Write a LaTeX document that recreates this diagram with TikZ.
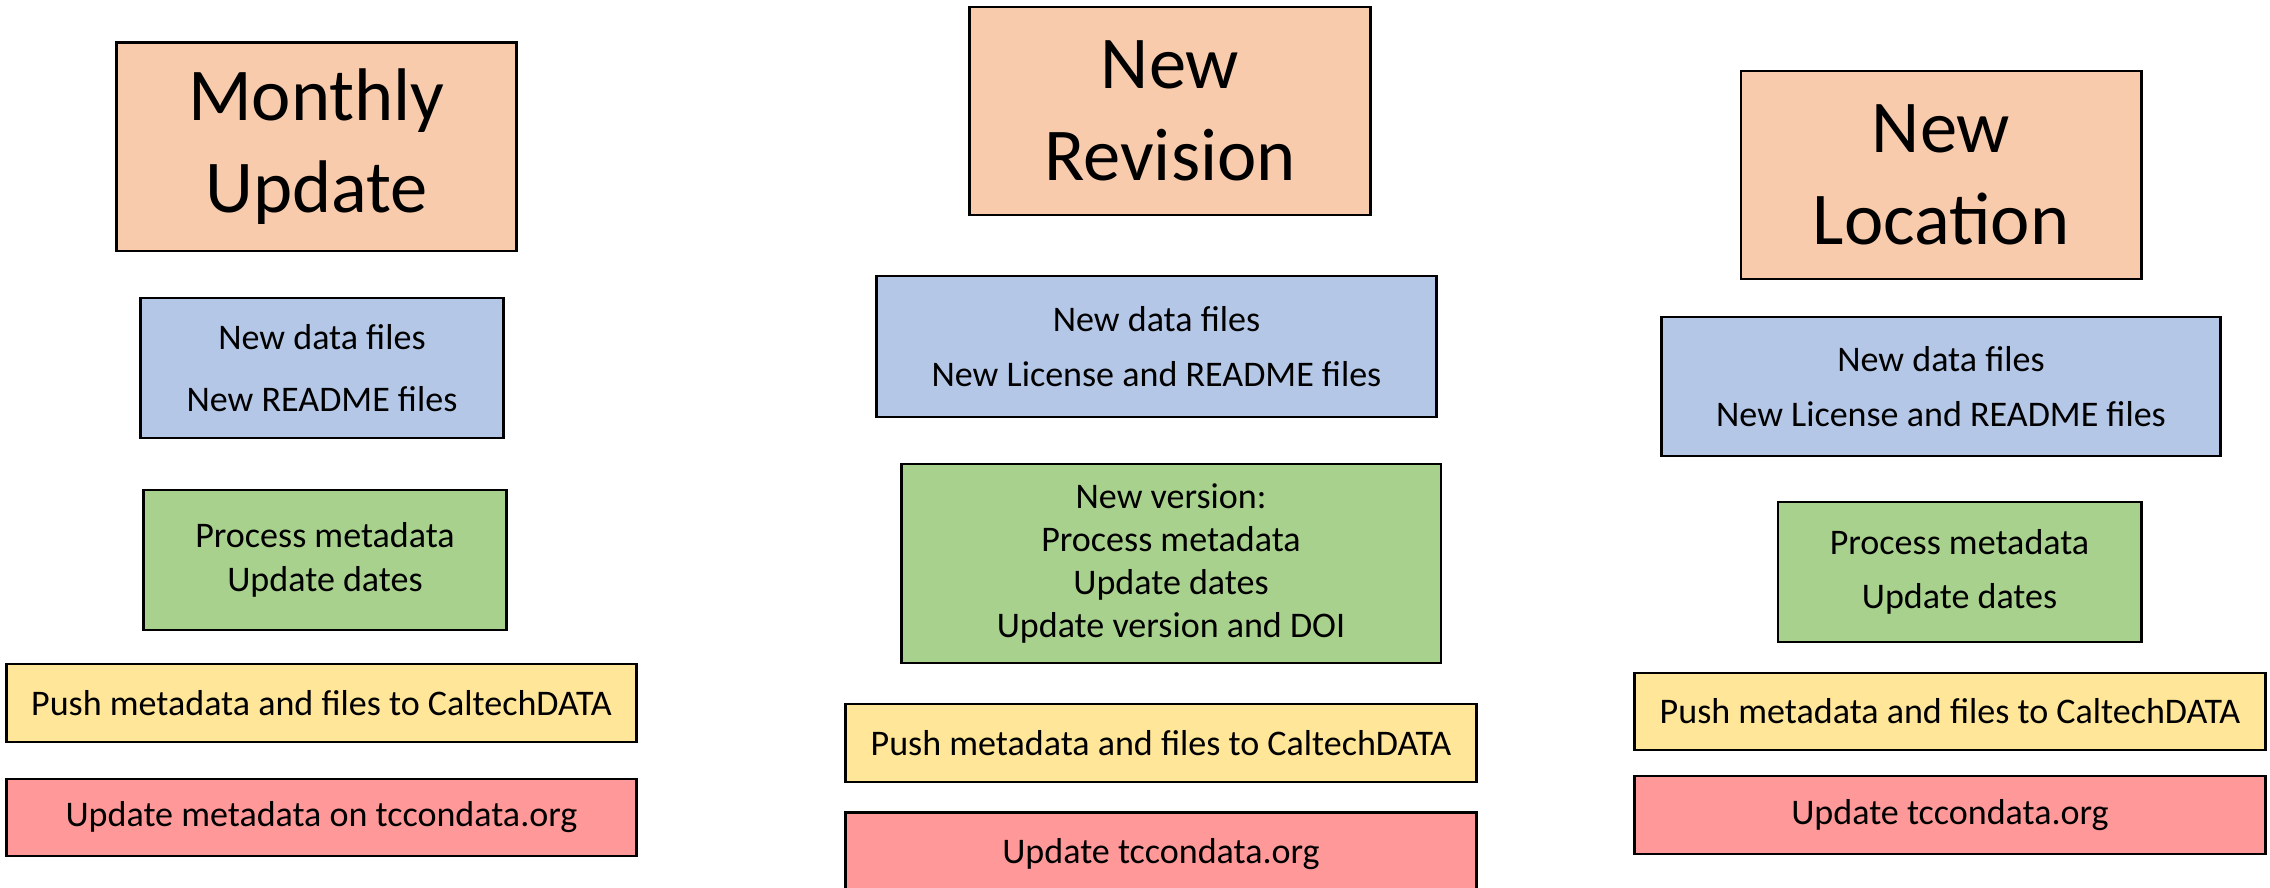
\documentclass[tikz,border=0pt]{standalone}
\usepackage{fontspec}
\setmainfont{Carlito}
\definecolor{headfill}{HTML}{F8CBAD}
\definecolor{filesfill}{HTML}{B4C7E7}
\definecolor{metafill}{HTML}{A9D18E}
\definecolor{pushfill}{HTML}{FFE699}
\definecolor{webfill}{HTML}{FF9999}
\tikzset{
  box/.style={draw=black, line width=0.8pt, align=center, inner sep=0pt,
    font=\fontsize{10.25}{12.3}\selectfont},
  size/.style 2 args={minimum width=#1cm, minimum height=#2cm},
  headbox/.style={box, fill=headfill, font=\fontsize{21.2}{26}\selectfont},
  filesbox/.style={box, fill=filesfill},
  metabox/.style={box, fill=metafill},
  pushbox/.style={box, fill=pushfill},
  webbox/.style={box, fill=webfill}
}
\begin{document}
\begin{tikzpicture}[x=0.01cm,y=-0.01cm]
\useasboundingbox (0,0) rectangle (2270,888);
% monthly update
\node[headbox, size={3.99}{2.085}] (monthly) at (316.5,146.75) {Monthly\\Update};
\node[filesbox, size={3.62}{1.40}] (mfiles) at (322,368) {New data files\\[5.3pt]New README files};
\node[metabox, size={3.62}{1.40}] (mmeta) at (325,560) {Process metadata\\Update dates};
\node[pushbox, size={6.29}{0.78}] (mpush) at (321.5,703) {Push metadata and files to CaltechDATA};
\node[webbox, size={6.29}{0.77}] (mweb) at (321.5,817.5) {Update metadata on tccondata.org};

% new revision
\node[headbox, size={4.00}{2.08}] (revision) at (1170,111) {New\\Revision};
\node[filesbox, size={5.59}{1.41}] (rfiles) at (1156.5,346.5) {New data files\\[3.3pt]New License and README files};
\node[metabox, size={5.395}{1.99}] (rmeta) at (1171,563.5) {New version:\\Process metadata\\Update dates\\Update version and DOI};
\node[pushbox, size={6.30}{0.78}] (rpush) at (1161,743) {Push metadata and files to CaltechDATA};
\node[webbox, size={6.30}{0.825}] (rweb) at (1161,853.75) {Update tccondata.org};

% new location
\node[headbox, size={4.00}{2.08}] (location) at (1941,175) {New\\Location};
\node[filesbox, size={5.58}{1.39}] (lfiles) at (1941,386.5) {New data files\\[3.3pt]New License and README files};
\node[metabox, size={3.63}{1.40}] (lmeta) at (1959.5,572) {Process metadata\\[3.1pt]Update dates};
\node[pushbox, size={6.30}{0.77}] (lpush) at (1950,711.5) {Push metadata and files to CaltechDATA};
\node[webbox, size={6.30}{0.78}] (lweb) at (1950,815) {Update tccondata.org};
\end{tikzpicture}
\end{document}
